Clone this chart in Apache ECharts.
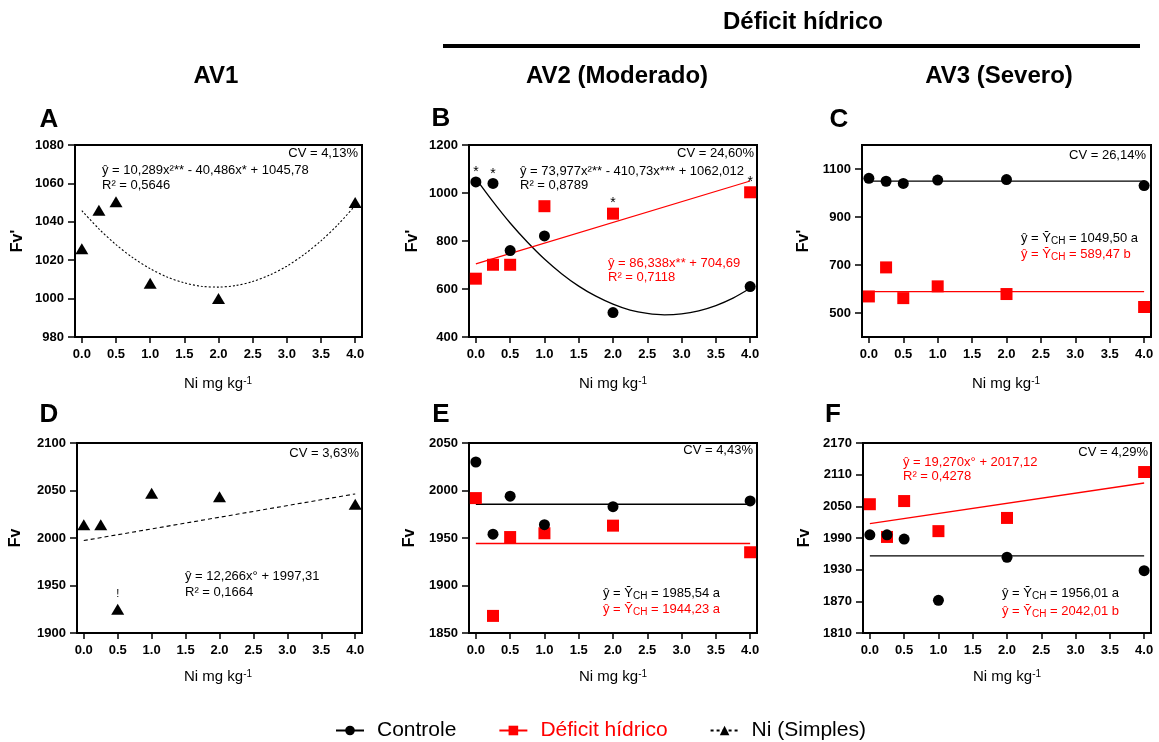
<!DOCTYPE html>
<html>
<head>
<meta charset="utf-8">
<script src="https://cdn.jsdelivr.net/npm/echarts@6/dist/echarts.min.js"></script>
<style>
html, body { margin: 0; padding: 0; background: #fff; }
#chart { width: 1159px; height: 742px; }
</style>
</head>
<body>
<div id="chart"></div>
<script>
// Ni doses (mg kg-1) and axis ticks
const doses = [0, 0.25, 0.5, 1, 2, 4]
const xTicks = [0, 0.5, 1, 1.5, 2, 2.5, 3, 3.5, 4]
const curveX = [0, 0.25, 0.5, 0.75, 1, 1.25, 1.5, 1.75, 2, 2.25, 2.5, 2.75, 3, 3.25, 3.5, 3.75, 4]
const lineX = [0, 4]

// A - Fv' AV1 (Ni simples)
const niA = [1026, 1046, 1050.5, 1008, 1000, 1050]
const fitA = [1045.8, 1036.3, 1028.1, 1021.2, 1015.6, 1011.2, 1008.2, 1006.4, 1006.0, 1006.8, 1008.9, 1012.3, 1016.9, 1022.9, 1030.1, 1038.6, 1048.5]
const yTicksA = [980, 1000, 1020, 1040, 1060, 1080]

// B - Fv' AV2
const ctrlB = [1046, 1040, 760, 821, 502, 610]
const defB = [643, 701, 701, 945, 914, 1003]
const fitCtrlB = [1060, 964, 875, 796, 725, 664, 612, 570, 537, 512, 498, 492, 496, 509, 531, 562, 603]
const fitDefB = [705, 1050]
const marksCtrlB = ['*', '*', '', '', '', '']
const marksDefB = ['', '', '', '', '*', '*']
const yTicksB = [400, 600, 800, 1000, 1200]

// C - Fv' AV3
const ctrlC = [1061, 1049, 1040, 1054, 1056, 1031]
const defC = [569, 690, 562, 611, 579, 525]
const meanCtrlC = 1049.5
const meanDefC = 589.47
const yTicksC = [500, 700, 900, 1100]

// D - Fv AV1
const niD = [2014, 2014, 1925, 2047, 2043.5, 2035.4]
const fitD = [1997.3, 2046.4]
const marksD = ['', '', '!', '', '', '']
const yTicksD = [1900, 1950, 2000, 2050, 2100]

// E - Fv AV2
const ctrlE = [2030, 1954, 1994, 1964, 1983, 1989]
const defE = [1992, 1868, 1951, 1955, 1963, 1935]
const meanCtrlE = 1985.54
const meanDefE = 1944.23
const yTicksE = [1850, 1900, 1950, 2000, 2050]

// F - Fv AV3
const ctrlF = [1996, 1996, 1988, 1872, 1953.5, 1928]
const defF = [2054, 1992, 2060, 2003, 2028, 2115]
const meanCtrlF = 1956.01
const fitDefF = [2017.1, 2094.2]
const yTicksF = [1810, 1870, 1930, 1990, 2050, 2110, 2170]

const RED = '#ff0000'
const FONT = 'Liberation Sans, Arial, sans-serif'

const grids = [
  { left: 75, top: 145, width: 287, height: 192 },
  { left: 469, top: 145, width: 288, height: 192 },
  { left: 862, top: 145, width: 289, height: 192 },
  { left: 77, top: 443, width: 285, height: 190 },
  { left: 469, top: 443, width: 288, height: 190 },
  { left: 863, top: 443, width: 288, height: 190 }
]
const yRanges = [
  [980, 1080, yTicksA], [400, 1200, yTicksB], [400, 1200, yTicksC],
  [1900, 2100, yTicksD], [1850, 2050, yTicksE], [1810, 2170, yTicksF]
]

const symbols = {
  ctrl: { symbol: 'circle', symbolSize: 11, color: '#000' },
  def: { symbol: 'rect', symbolSize: 12, color: RED },
  ni: { symbol: 'triangle', symbolSize: [13, 11], color: '#000' }
}

function points(ys, kind, marks) {
  return doses.map((x, i) => {
    const item = { value: [x, ys[i]] }
    if (marks && marks[i]) {
      item.label = {
        show: true,
        formatter: marks[i],
        position: 'top',
        distance: marks[i] === '!' ? 4 : -3,
        color: '#000',
        fontSize: marks[i] === '!' ? 11 : 14,
        fontFamily: FONT
      }
    }
    return item
  })
}

function scatter(idx, ys, kind, marks) {
  const s = symbols[kind]
  return {
    type: 'scatter',
    xAxisIndex: idx,
    yAxisIndex: idx,
    symbol: s.symbol,
    symbolSize: s.symbolSize,
    itemStyle: { color: s.color, opacity: 1 },
    z: kind === 'ctrl' ? 5 : 4,
    data: points(ys, kind, marks),
    silent: true
  }
}

function fit(idx, xs, ys, color, type, smooth) {
  return {
    type: 'line',
    xAxisIndex: idx,
    yAxisIndex: idx,
    showSymbol: false,
    symbol: 'none',
    smooth: smooth ? 0.3 : false,
    lineStyle: { color: color, width: type === 'solid' ? 1.3 : 1.1, type: type },
    data: xs.map((x, i) => [x, ys[i]]),
    z: 3,
    silent: true
  }
}

function legendSeries(name, symbol, color, lineType) {
  return {
    type: 'line',
    name: name,
    symbol: symbol,
    symbolSize: 10,
    itemStyle: { color: color, opacity: 1 },
    lineStyle: { color: color, width: lineType === 'solid' ? 2 : 1.2, type: lineType },
    data: []
  }
}

const series = [
  legendSeries('Controle', 'circle', '#000', 'solid'),
  legendSeries('Déficit hídrico', 'rect', RED, 'solid'),
  legendSeries('Ni (Simples)', 'triangle', '#000', [3, 3]),
  // A
  fit(0, curveX, fitA, '#000', [2, 2], true),
  scatter(0, niA, 'ni'),
  // B
  fit(1, curveX, fitCtrlB, '#000', 'solid', true),
  fit(1, lineX, fitDefB, RED, 'solid'),
  scatter(1, defB, 'def', marksDefB),
  scatter(1, ctrlB, 'ctrl', marksCtrlB),
  // C
  fit(2, lineX, [meanCtrlC, meanCtrlC], '#000', 'solid'),
  fit(2, lineX, [meanDefC, meanDefC], RED, 'solid'),
  scatter(2, defC, 'def'),
  scatter(2, ctrlC, 'ctrl'),
  // D
  fit(3, lineX, fitD, '#000', [4, 3]),
  scatter(3, niD, 'ni', marksD),
  // E
  fit(4, lineX, [meanCtrlE, meanCtrlE], '#000', 'solid'),
  fit(4, lineX, [meanDefE, meanDefE], RED, 'solid'),
  scatter(4, defE, 'def'),
  scatter(4, ctrlE, 'ctrl'),
  // F
  fit(5, lineX, [meanCtrlF, meanCtrlF], '#000', 'solid'),
  fit(5, lineX, fitDefF, RED, 'solid'),
  scatter(5, defF, 'def'),
  scatter(5, ctrlF, 'ctrl')
]

const xAxes = grids.map((g, i) => ({
  type: 'value',
  gridIndex: i,
  min: -0.1,
  max: 4.1,
  splitLine: { show: false },
  axisLine: { onZero: false, lineStyle: { color: '#000', width: 2 } },
  axisTick: { customValues: xTicks, length: 6, lineStyle: { color: '#000', width: 1.5 } },
  axisLabel: {
    customValues: xTicks,
    formatter: v => v.toFixed(1),
    color: '#000',
    fontWeight: 'bold',
    fontSize: 13,
    fontFamily: FONT,
    margin: 11
  }
}))

const yAxes = yRanges.map((r, i) => ({
  type: 'value',
  gridIndex: i,
  min: r[0],
  max: r[1],
  splitLine: { show: false },
  axisLine: { onZero: false, lineStyle: { color: '#000', width: 2 } },
  axisTick: { customValues: r[2], length: 7, lineStyle: { color: '#000', width: 1.5 } },
  axisLabel: {
    customValues: r[2],
    formatter: v => String(v),
    color: '#000',
    fontWeight: 'bold',
    fontSize: 13,
    fontFamily: FONT,
    margin: 11
  }
}))

function txt(x, y, text, opts) {
  const o = opts || {}
  return {
    type: 'text',
    x: x,
    y: y,
    rotation: o.rotation || 0,
    silent: true,
    style: {
      text: text,
      fill: o.color || '#000',
      font: (o.bold ? 'bold ' : '') + (o.size || 13) + 'px ' + FONT,
      textAlign: o.align || 'left',
      textVerticalAlign: 'middle',
      rich: o.rich
    }
  }
}

const subRich = {
  sub: { fontSize: 10, fontFamily: FONT, verticalAlign: 'bottom', padding: [6, 0, 0, 0] }
}
const supRich = {
  sup: { fontSize: 10, fontFamily: FONT, verticalAlign: 'top', padding: [0, 0, 6, 0] }
}

const graphics = [
  // column headers
  txt(803, 22, 'Déficit hídrico', { bold: true, size: 24, align: 'center' }),
  { type: 'rect', silent: true, shape: { x: 443, y: 44, width: 697, height: 4 }, style: { fill: '#000' } },
  txt(216, 76, 'AV1', { bold: true, size: 24, align: 'center' }),
  txt(617, 76, 'AV2 (Moderado)', { bold: true, size: 24, align: 'center' }),
  txt(999, 76, 'AV3 (Severo)', { bold: true, size: 24, align: 'center' }),
  // panel letters
  txt(49, 120, 'A', { bold: true, size: 26, align: 'center' }),
  txt(441, 119, 'B', { bold: true, size: 26, align: 'center' }),
  txt(839, 120, 'C', { bold: true, size: 26, align: 'center' }),
  txt(49, 415, 'D', { bold: true, size: 26, align: 'center' }),
  txt(441, 415, 'E', { bold: true, size: 26, align: 'center' }),
  txt(833, 415, 'F', { bold: true, size: 26, align: 'center' }),
  // y axis names
  txt(18, 241, "Fv'", { bold: true, size: 16, align: 'center', rotation: Math.PI / 2 }),
  txt(413, 241, "Fv'", { bold: true, size: 16, align: 'center', rotation: Math.PI / 2 }),
  txt(804, 241, "Fv'", { bold: true, size: 16, align: 'center', rotation: Math.PI / 2 }),
  txt(16, 538, 'Fv', { bold: true, size: 16, align: 'center', rotation: Math.PI / 2 }),
  txt(410, 538, 'Fv', { bold: true, size: 16, align: 'center', rotation: Math.PI / 2 }),
  txt(805, 538, 'Fv', { bold: true, size: 16, align: 'center', rotation: Math.PI / 2 }),
  // x axis names
  txt(218, 384, 'Ni mg kg{sup|-1}', { size: 15, align: 'center', rich: supRich }),
  txt(613, 384, 'Ni mg kg{sup|-1}', { size: 15, align: 'center', rich: supRich }),
  txt(1006, 384, 'Ni mg kg{sup|-1}', { size: 15, align: 'center', rich: supRich }),
  txt(218, 677, 'Ni mg kg{sup|-1}', { size: 15, align: 'center', rich: supRich }),
  txt(613, 677, 'Ni mg kg{sup|-1}', { size: 15, align: 'center', rich: supRich }),
  txt(1007, 677, 'Ni mg kg{sup|-1}', { size: 15, align: 'center', rich: supRich }),
  // A
  txt(358, 153, 'CV = 4,13%', { align: 'right' }),
  txt(102, 170, 'ŷ = 10,289x²** - 40,486x* + 1045,78'),
  txt(102, 185, 'R² = 0,5646'),
  // B
  txt(754, 153, 'CV = 24,60%', { align: 'right' }),
  txt(520, 171, 'ŷ = 73,977x²** - 410,73x*** + 1062,012'),
  txt(520, 185, 'R² = 0,8789'),
  txt(608, 263, 'ŷ = 86,338x** + 704,69', { color: RED }),
  txt(608, 277, 'R² = 0,7118', { color: RED }),
  // C
  txt(1146, 155, 'CV = 26,14%', { align: 'right' }),
  txt(1021, 238, 'ŷ = Ȳ{sub|CH} = 1049,50 a', { rich: subRich }),
  txt(1021, 254, 'ŷ = Ȳ{sub|CH} = 589,47 b', { color: RED, rich: subRich }),
  // D
  txt(359, 453, 'CV = 3,63%', { align: 'right' }),
  txt(185, 576, 'ŷ = 12,266x° + 1997,31'),
  txt(185, 592, 'R² = 0,1664'),
  // E
  txt(753, 450, 'CV = 4,43%', { align: 'right' }),
  txt(603, 593, 'ŷ = Ȳ{sub|CH} = 1985,54 a', { rich: subRich }),
  txt(603, 609, 'ŷ = Ȳ{sub|CH} = 1944,23 a', { color: RED, rich: subRich }),
  // F
  txt(1148, 452, 'CV = 4,29%', { align: 'right' }),
  txt(903, 462, 'ŷ = 19,270x° + 2017,12', { color: RED }),
  txt(903, 476, 'R² = 0,4278', { color: RED }),
  txt(1002, 593, 'ŷ = Ȳ{sub|CH} = 1956,01 a', { rich: subRich }),
  txt(1002, 611, 'ŷ = Ȳ{sub|CH} = 2042,01 b', { color: RED, rich: subRich })
]

const chart = echarts.init(document.getElementById('chart'))
chart.setOption({
  animation: false,
  backgroundColor: '#fff',
  grid: grids.map(g => Object.assign({ show: true, borderColor: '#000', borderWidth: 2 }, g)),
  xAxis: xAxes,
  yAxis: yAxes,
  legend: {
    top: 715,
    left: 330,
    itemWidth: 28,
    itemHeight: 12,
    itemGap: 42,
    selectedMode: false,
    textStyle: { fontSize: 21, fontFamily: FONT, padding: [0, 0, 0, 8] },
    data: [
      { name: 'Controle', textStyle: { color: '#000' } },
      { name: 'Déficit hídrico', textStyle: { color: RED } },
      { name: 'Ni (Simples)', textStyle: { color: '#000' } }
    ]
  },
  series: series,
  graphic: graphics
})
</script>
</body>
</html>
